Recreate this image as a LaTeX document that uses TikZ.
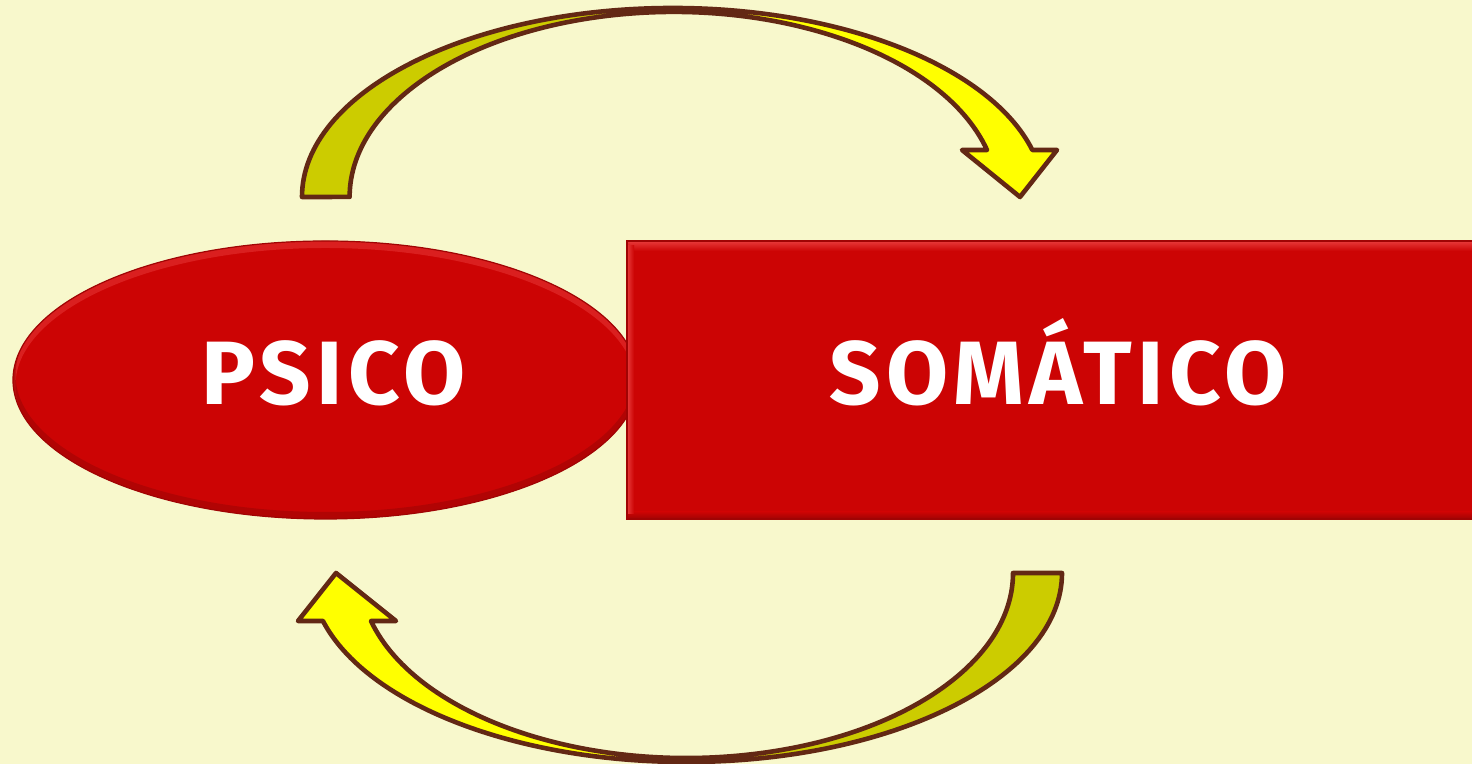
\documentclass[tikz,border=0pt]{standalone}
\usepackage{fontspec}
\newfontfamily\lblfont{Fira Sans}[LetterSpace=6.0]
\definecolor{bg}{HTML}{F8F8CC}
\definecolor{redmain}{HTML}{CC0404}
\definecolor{bevlight}{HTML}{E83A3A}
\definecolor{bevdark}{HTML}{A00404}
\definecolor{brownline}{HTML}{632814}
\definecolor{olive}{HTML}{CCCC00}
\definecolor{yel}{HTML}{FFFF00}
\tikzset{
  arrowline/.style={draw=brownline, line width=2.3pt, line join=round},
  psicoshape/.style={ellipse, minimum width=312.5pt, minimum height=139pt, inner sep=0pt, fill=redmain},
  somashape/.style={rectangle, minimum width=426.5pt, minimum height=139pt, inner sep=0pt, fill=redmain},
  lbl/.style={text=white, font=\lblfont\bfseries\fontsize{45}{50}\selectfont, inner sep=0pt, anchor=base}
}
\usetikzlibrary{shapes.geometric}
\begin{document}
\begin{tikzpicture}[x=0.5pt,y=0.5pt]
\useasboundingbox (0,0) rectangle (1472,764);
\clip (0,0) rectangle (1472,764);
\fill[bg] (0,0) rectangle (1472,764);

% ellipse PSICO
\node[psicoshape] (psico) at (325.5,384) {};
\begin{scope}
  \clip (325.5,384) ellipse [x radius=312.5, y radius=139];
  \draw[line width=4pt, bevlight, opacity=0.5] (325.5,379) ellipse [x radius=314, y radius=141];
  \draw[line width=4pt, bevdark, opacity=0.6] (325.5,389) ellipse [x radius=314, y radius=141];
\end{scope}
\draw[bevdark, line width=0.6pt] (325.5,384) ellipse [x radius=312.5, y radius=139];

% rectangle SOMATICO
\node[somashape] (soma) at (1053.5,384) {};
\shade[top color=bevlight, bottom color=redmain] (627,513) rectangle (1480,523);
\shade[top color=redmain, bottom color=bevdark] (627,245) rectangle (1480,252);
\shade[left color=bevlight, right color=redmain] (627,250) rectangle (634,518);
\draw[bevdark, line width=0.6pt] (627,245) rectangle (1480,523);

% labels
\node[lbl] (psicotext) at (334,359) {PSICO};
\node[lbl] (somatext) at (1058,359) {SOMÁTICO};

% top curved arrow (from PSICO to SOMATICO)
\coordinate (toptail) at (302,567);
\coordinate (toptip) at (1020,567);
\fill[yel] (toptail) arc[start angle=180,end angle=14.4,x radius=371,y radius=189]
  -- (1057,614) -- (toptip) -- (962,614) -- (987,614)
  arc[start angle=14.7,end angle=180,x radius=324,y radius=185] -- cycle;
\fill[olive] (toptail) arc[start angle=180,end angle=96,x radius=371,y radius=189]
  -- (640.1,751.0) arc[start angle=96,end angle=180,x radius=324,y radius=185] -- cycle;
\path[arrowline] (toptail) arc[start angle=180,end angle=14.4,x radius=371,y radius=189]
  -- (1057,614) -- (toptip) -- (962,614) -- (987,614)
  arc[start angle=14.7,end angle=180,x radius=324,y radius=185] -- cycle;

% bottom curved arrow (from SOMATICO to PSICO)
\coordinate (bottail) at (1062,191);
\coordinate (bottip) at (336,191);
\fill[yel] (bottail) arc[start angle=0,end angle=-165.3,x radius=375.7,y radius=189]
  -- (298,143) -- (bottip) -- (396,143) -- (371,143)
  arc[start angle=-164.96,end angle=0,x radius=326.6,y radius=185] -- cycle;
\fill[olive] (bottail) arc[start angle=0,end angle=-88,x radius=375.7,y radius=189]
  -- (697.8,6.1) arc[start angle=-88,end angle=0,x radius=326.6,y radius=185] -- cycle;
\path[arrowline] (bottail) arc[start angle=0,end angle=-165.3,x radius=375.7,y radius=189]
  -- (298,143) -- (bottip) -- (396,143) -- (371,143)
  arc[start angle=-164.96,end angle=0,x radius=326.6,y radius=185] -- cycle;
\end{tikzpicture}
\end{document}
